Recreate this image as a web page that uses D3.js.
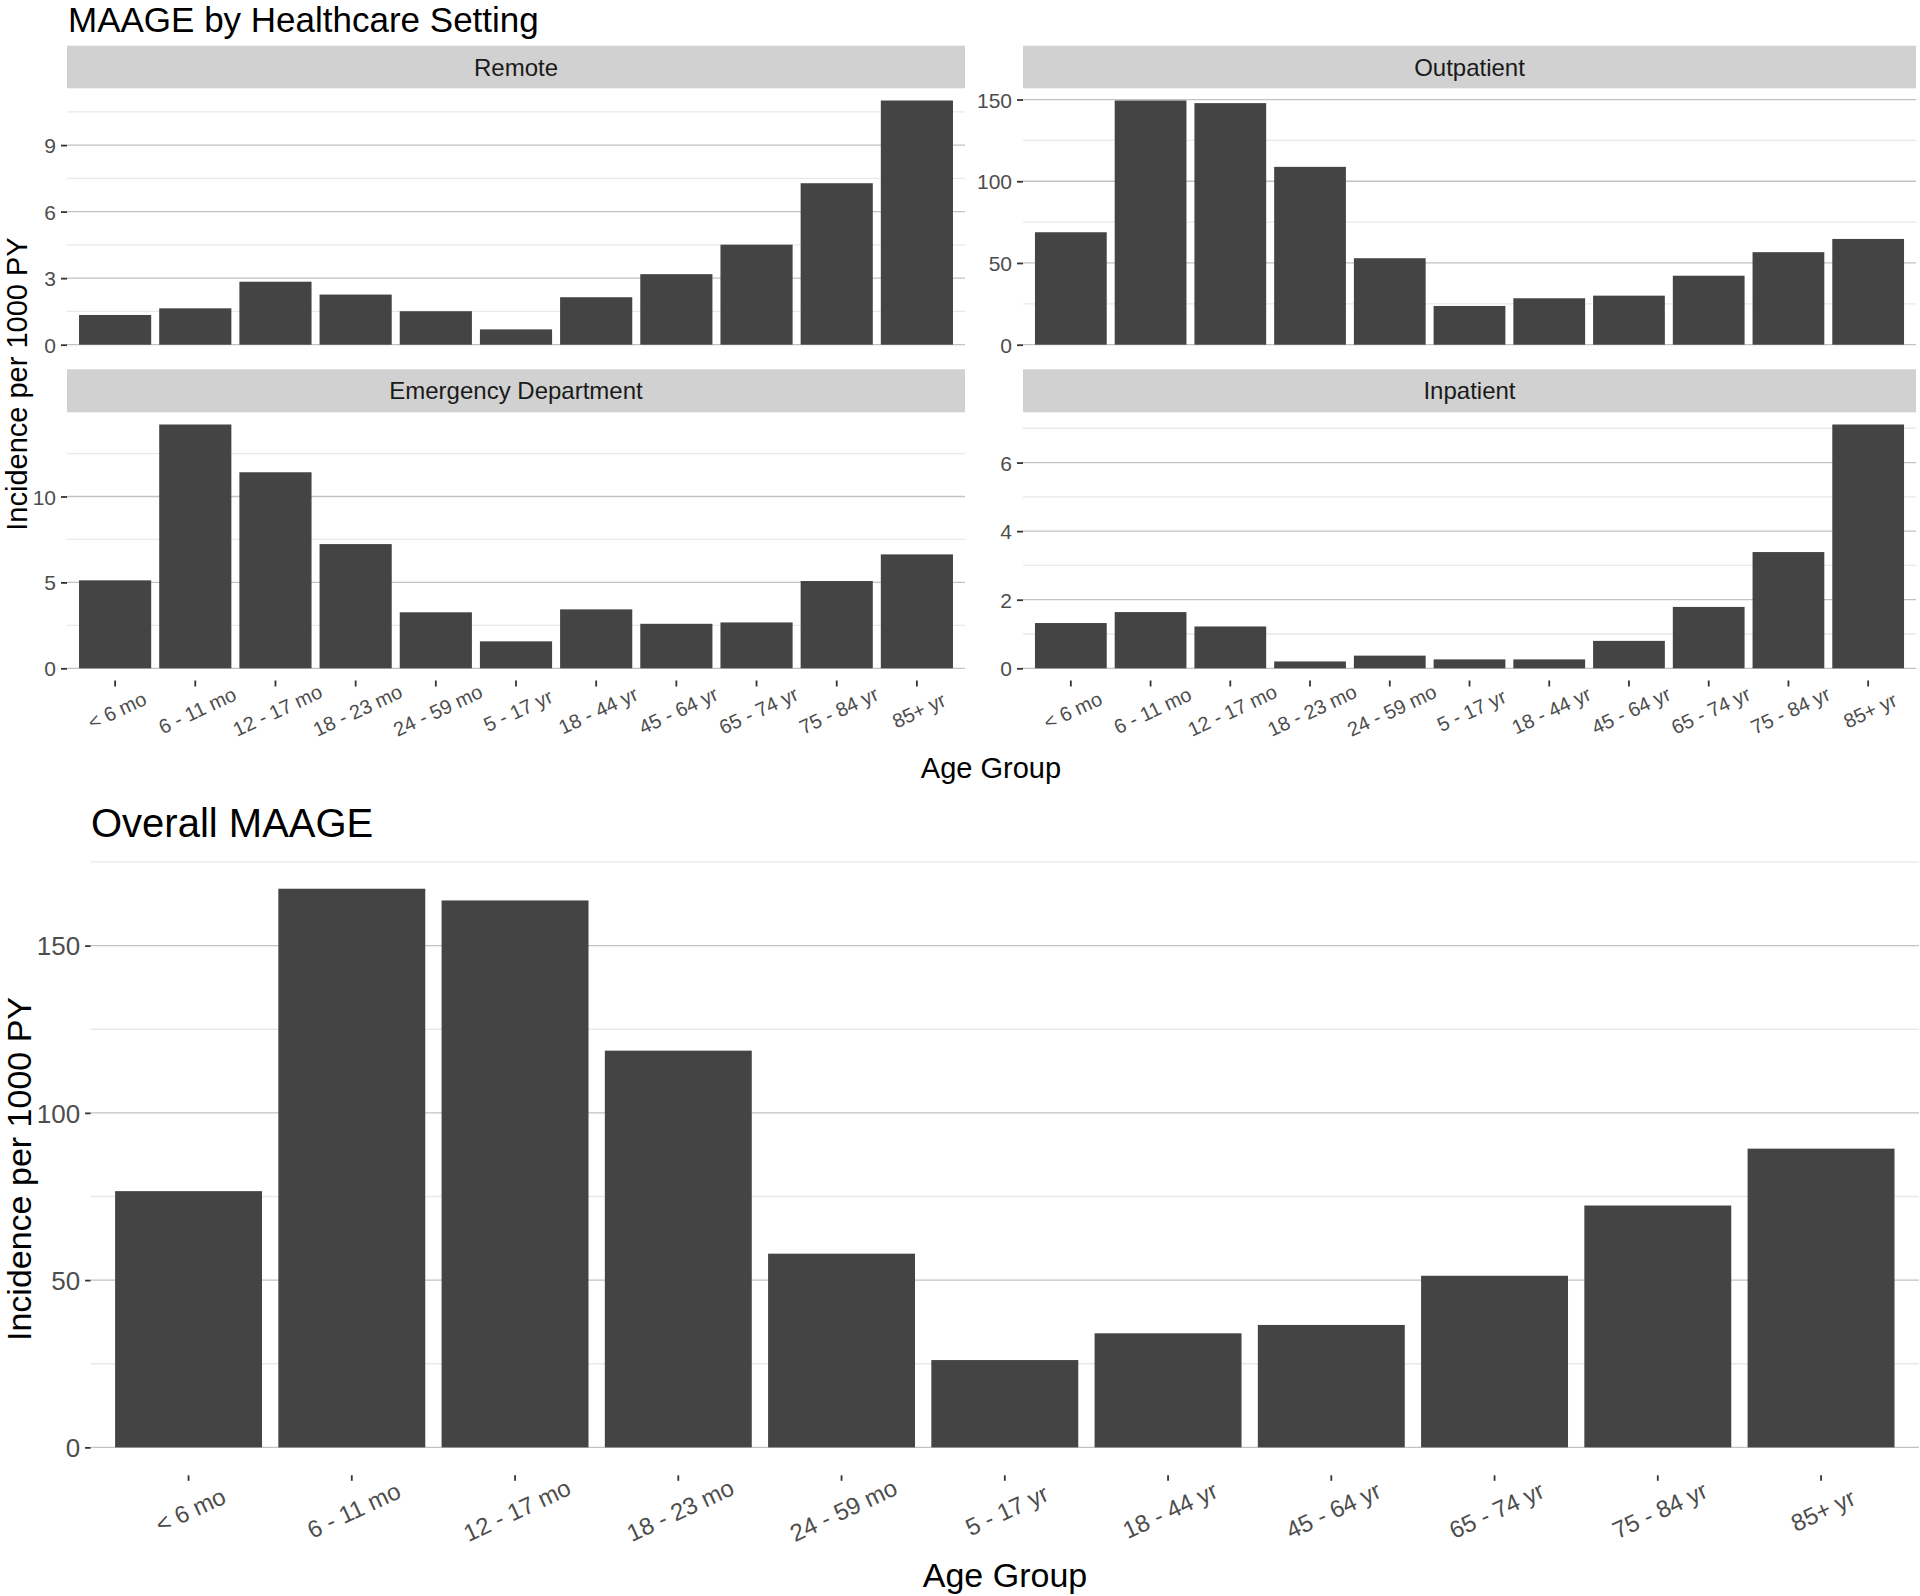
<!DOCTYPE html>
<html>
<head>
<meta charset="utf-8">
<script src="https://cdn.jsdelivr.net/npm/d3@7"></script>
<style>
  html, body { margin: 0; padding: 0; background: #fff; }
  svg { display: block; }
  text { font-family: "Liberation Sans", Arial, Helvetica, sans-serif; }
</style>
</head>
<body>
<script>
// ---------- DATA ----------
const categories = ["< 6 mo", "6 - 11 mo", "12 - 17 mo", "18 - 23 mo", "24 - 59 mo", "5 - 17 yr", "18 - 44 yr", "45 - 64 yr", "65 - 74 yr", "75 - 84 yr", "85+ yr"];
const remote     = [1.34, 1.64, 2.84, 2.26, 1.51, 0.69, 2.14, 3.18, 4.51, 7.28, 11.01];
const outpatient = [68.8, 149.4, 147.8, 108.8, 52.9, 23.7, 28.4, 30.0, 42.2, 56.6, 64.7];
const emergency  = [5.12, 14.19, 11.41, 7.23, 3.26, 1.57, 3.43, 2.59, 2.67, 5.08, 6.63];
const inpatient  = [1.32, 1.64, 1.22, 0.20, 0.37, 0.26, 0.26, 0.80, 1.79, 3.39, 7.11];
const overall    = [76.6, 167.0, 163.5, 118.6, 57.9, 26.1, 34.1, 36.6, 51.3, 72.3, 89.3];

const remoteTicks     = [0, 3, 6, 9];
const outpatientTicks = [0, 50, 100, 150];
const emergencyTicks  = [0, 5, 10];
const inpatientTicks  = [0, 2, 4, 6];
const overallTicks    = [0, 50, 100, 150];

const facetNames = ["Remote", "Outpatient", "Emergency Department", "Inpatient"];
const topTitle = "MAAGE by Healthcare Setting";
const bottomTitle = "Overall MAAGE";
const xTitle = "Age Group";
const yTitle = "Incidence per 1000 PY";

// ---------- LAYOUT ----------
const W = 1920, H = 1596;
const BAR = "#444444", MAJOR = "#c2c2c2", MINOR = "#e9e9e9", TICK = "#333333", LABEL = "#4d4d4d";

const svg = d3.select("body").append("svg").attr("width", W).attr("height", H);

function minorOf(ticks, maxDomain) {
  const step = ticks[1] - ticks[0];
  const out = [];
  ticks.forEach(t => { const m = t + step / 2; if (m <= maxDomain) out.push(m); });
  return out;
}

function drawPanel(cfg) {
  const { left, right, top, bottom, values, ticks, showX, fs, xfs, xLabOffset, tickLen, pad } = cfg;
  const g = svg.append("g");
  const vmax = d3.max(values);
  const y = d3.scaleLinear().domain([-0.05 * vmax, 1.05 * vmax]).range([bottom, top]);
  const x = d3.scaleBand().domain(categories).range([left, right]).paddingInner(0.1).paddingOuter(0.15);

  // gridlines
  g.selectAll("line.minor").data(minorOf(ticks, y.domain()[1])).join("line")
    .attr("x1", left).attr("x2", right).attr("y1", d => y(d)).attr("y2", d => y(d))
    .attr("stroke", MINOR).attr("stroke-width", 1.3);
  g.selectAll("line.major").data(ticks).join("line")
    .attr("x1", left).attr("x2", right).attr("y1", d => y(d)).attr("y2", d => y(d))
    .attr("stroke", MAJOR).attr("stroke-width", 1.3);

  // bars
  g.selectAll("rect.bar").data(values).join("rect")
    .attr("x", (d, i) => x(categories[i]))
    .attr("width", x.bandwidth())
    .attr("y", d => y(d))
    .attr("height", d => y(0) - y(d))
    .attr("fill", BAR);

  // y axis
  const ya = g.append("g").attr("transform", `translate(${left},0)`)
    .call(d3.axisLeft(y).tickValues(ticks).tickSize(tickLen).tickPadding(pad).tickFormat(d3.format("d")));
  ya.select(".domain").remove();
  ya.selectAll(".tick line").attr("stroke", TICK).attr("stroke-width", 1.8);
  ya.selectAll(".tick text").attr("fill", LABEL).attr("font-size", fs).attr("dy", "0.36em")
    .attr("font-family", "Liberation Sans, Arial, sans-serif");

  if (showX) {
    const xa = g.append("g").attr("transform", `translate(0,${bottom})`)
      .call(d3.axisBottom(x).tickSize(tickLen));
    xa.select(".domain").remove();
    xa.selectAll(".tick line").attr("stroke", TICK).attr("stroke-width", 1.8);
    xa.selectAll(".tick text")
      .attr("fill", LABEL).attr("font-size", xfs)
      .attr("font-family", "Liberation Sans, Arial, sans-serif")
      .attr("y", 0).attr("dy", "0.35em").attr("text-anchor", "middle")
      .attr("transform", `translate(2,${xLabOffset}) rotate(-25)`);
  }
}

// ---------- TOP FIGURE ----------
svg.append("text").attr("x", 68).attr("y", 32).attr("font-size", 35).attr("fill", "#000").text(topTitle);

const cols = [[67, 965], [1023, 1916]];
const strips = [[45.7, 88.3], [369.3, 412.3]];
const panelsY = [[88.3, 356.9], [412.3, 680.5]];
const facetValues = [remote, outpatient, emergency, inpatient];
const facetTicks = [remoteTicks, outpatientTicks, emergencyTicks, inpatientTicks];

facetNames.forEach((name, i) => {
  const c = i % 2, r = Math.floor(i / 2);
  const [l, rr] = cols[c];
  svg.append("rect").attr("x", l).attr("y", strips[r][0]).attr("width", rr - l)
    .attr("height", strips[r][1] - strips[r][0]).attr("fill", "#d1d1d1");
  svg.append("text").attr("x", (l + rr) / 2).attr("y", (strips[r][0] + strips[r][1]) / 2)
    .attr("dy", "0.36em").attr("text-anchor", "middle").attr("font-size", 24).attr("fill", "#1a1a1a").text(name);
  drawPanel({
    left: l, right: rr, top: panelsY[r][0], bottom: panelsY[r][1],
    values: facetValues[i], ticks: facetTicks[i], showX: r === 1,
    fs: 21, xfs: 20, xLabOffset: 30, tickLen: 6, pad: 5
  });
});

svg.append("text").attr("x", 991).attr("y", 778).attr("text-anchor", "middle")
  .attr("font-size", 29).attr("fill", "#000").text(xTitle);
svg.append("text").attr("transform", "translate(27,384) rotate(-90)").attr("text-anchor", "middle")
  .attr("font-size", 29).attr("fill", "#000").text(yTitle);

// ---------- BOTTOM FIGURE ----------
svg.append("text").attr("x", 91).attr("y", 837).attr("font-size", 40).attr("fill", "#000").text(bottomTitle);
drawPanel({
  left: 90.6, right: 1919, top: 860.8, bottom: 1475.3,
  values: overall, ticks: overallTicks, showX: true,
  fs: 26, xfs: 24, xLabOffset: 35, tickLen: 5.5, pad: 5
});
svg.append("text").attr("x", 1005).attr("y", 1587).attr("text-anchor", "middle")
  .attr("font-size", 34).attr("fill", "#000").text(xTitle);
svg.append("text").attr("transform", "translate(31,1169) rotate(-90)").attr("text-anchor", "middle")
  .attr("font-size", 34).attr("fill", "#000").text(yTitle);
</script>
</body>
</html>
